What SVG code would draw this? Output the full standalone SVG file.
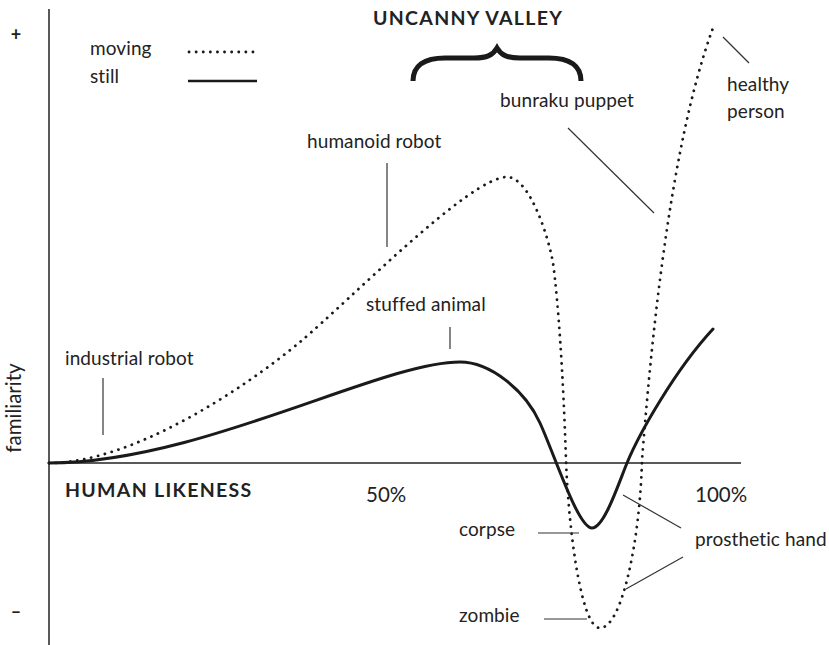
<svg xmlns="http://www.w3.org/2000/svg" width="829" height="645" viewBox="0 0 829 645">
<style>
text{font-family:"Lato","Noto Sans",sans-serif;fill:#222}
.lbl{font-size:19px;letter-spacing:0.1px}
.bold{font-size:19.5px;font-weight:bold;letter-spacing:1.3px}
.pct{font-size:20.5px}
.axis{stroke:#222;stroke-width:1.5;fill:none}
.ptr{stroke:#333;stroke-width:1.2;fill:none}
.still{stroke:#1a1a1a;stroke-width:3;fill:none;stroke-linecap:round}
.moving{stroke:#1a1a1a;stroke-width:2.8;fill:none;stroke-linecap:round;stroke-dasharray:0.1 7}
</style>
<rect width="829" height="645" fill="#fff"/>
<g id="axes">
<line class="axis" x1="49" y1="9" x2="49" y2="645"/>
<line class="axis" x1="49" y1="463" x2="741" y2="463"/>
<text x="16" y="41" text-anchor="middle" style="font-size:18px;font-weight:bold">+</text>
<text x="16" y="618" text-anchor="middle" style="font-size:18px;font-weight:bold">–</text>
<text transform="translate(21,408) rotate(-90)" text-anchor="middle" style="font-size:20.5px">familiarity</text>
<text x="65" y="497" class="bold">HUMAN LIKENESS</text>
<text x="366" y="502" class="pct">50%</text>
<text x="695" y="502" class="pct">100%</text>
</g>
<g id="legend">
<text x="90" y="55" class="lbl">moving</text>
<text x="90" y="83" class="lbl">still</text>
<line class="moving" x1="189" y1="52" x2="258" y2="52"/>
<line x1="188" y1="81" x2="257" y2="81" stroke="#1a1a1a" stroke-width="2.6"/>
</g>
<g id="uncanny-valley">
<text x="373" y="25" class="bold">UNCANNY VALLEY</text>
<path d="M413,81 C413,66 424,58 445,58 L474,58 C487,58 493,55 497,48 C501,55 507,58 520,58 L549,58 C570,58 581,66 581,81" fill="none" stroke="#1a1a1a" stroke-width="5"/>
</g>
<g id="curves">
<path id="still-curve" class="still" d="M49,463 C200,463 380,362 460,362 C490,362 525,390 540,423 C555,456 578,528 592,528 C604,528 618,485 627,463 C639,434 675,370 713,329"/>
<path id="moving-curve" class="moving" d="M49,463 C130,463 240,392 300,342 C350,300 470,177 507,177 C530,177 549,239 553,263 C558,300 563,370 566,460 C568,520 580,628 600,628 C622,628 640,540 642,460 C650,360 668,150 713,28"/>
</g>
<g id="connectors">
<line class="ptr" x1="103" y1="378" x2="103" y2="435"/>
<line class="ptr" x1="387" y1="163" x2="387" y2="247"/>
<line class="ptr" x1="450" y1="327" x2="450" y2="349"/>
<line class="ptr" x1="568" y1="128" x2="654" y2="213"/>
<line class="ptr" x1="723" y1="37" x2="749" y2="63"/>
<line class="ptr" x1="623" y1="495" x2="681" y2="528"/>
<line class="ptr" x1="626" y1="589" x2="683" y2="557"/>
<line class="ptr" x1="538" y1="533" x2="579" y2="533"/>
<line class="ptr" x1="544" y1="619" x2="587" y2="619"/>
</g>
<g id="labels">
<text x="65" y="365" class="lbl">industrial robot</text>
<text x="307" y="148" class="lbl">humanoid robot</text>
<text x="366" y="311" class="lbl">stuffed animal</text>
<text x="500" y="107" class="lbl">bunraku puppet</text>
<text x="727" y="91" class="lbl">healthy</text>
<text x="727" y="118" class="lbl">person</text>
<text x="695" y="546" class="lbl">prosthetic hand</text>
<text x="459" y="536" class="lbl">corpse</text>
<text x="459" y="622" class="lbl">zombie</text>
</g>
</svg>
